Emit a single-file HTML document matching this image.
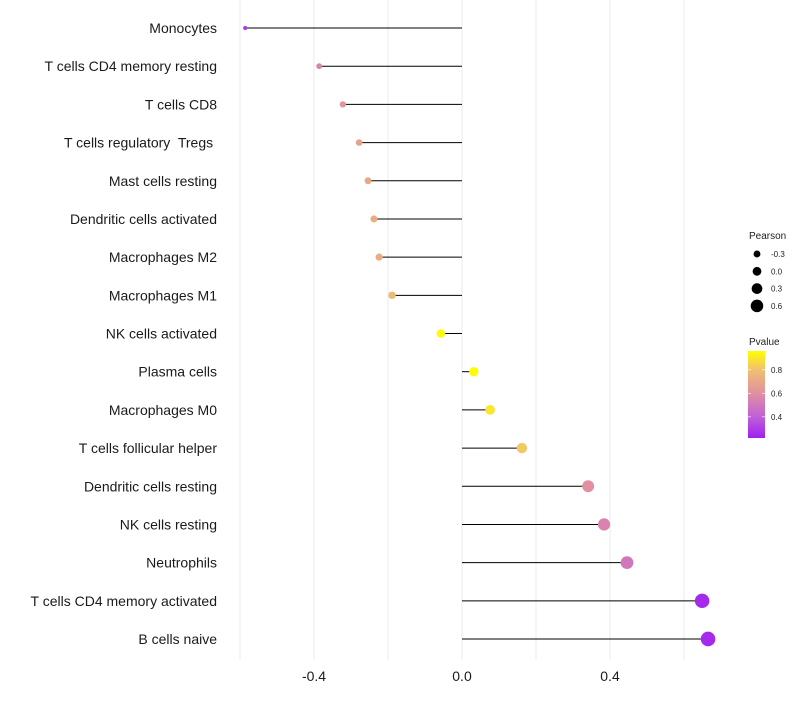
<!DOCTYPE html>
<html><head><meta charset="utf-8"><style>
body{margin:0;background:#fff;font-family:"Liberation Sans",sans-serif}
text{white-space:pre}
</style></head><body>
<svg id="chart" width="800" height="700" xmlns="http://www.w3.org/2000/svg" font-family="Liberation Sans, sans-serif"></svg>
<script>
const categories=["Monocytes","T cells CD4 memory resting","T cells CD8","T cells regulatory  Tregs ","Mast cells resting","Dendritic cells activated","Macrophages M2","Macrophages M1","NK cells activated","Plasma cells","Macrophages M0","T cells follicular helper","Dendritic cells resting","NK cells resting","Neutrophils","T cells CD4 memory activated","B cells naive"];
const pearson=[-0.586,-0.386,-0.322,-0.278,-0.254,-0.238,-0.224,-0.189,-0.057,0.032,0.076,0.162,0.341,0.384,0.446,0.649,0.665];
const pvalue=[0.3,0.55,0.62,0.68,0.7,0.72,0.72,0.78,0.95,0.95,0.9,0.82,0.6,0.55,0.5,0.25,0.25];
const xTicks=[-0.4,0,0.4];
const xTickLabels=["-0.4","0.0","0.4"];
const xGrid=[-0.6,-0.4,-0.2,0,0.2,0.4,0.6];
const sizeBreaks=[-0.3,0,0.3,0.6];
const sizeLabels=["-0.3","0.0","0.3","0.6"];
const pBreaks=[0.4,0.6,0.8];
const pLabels=["0.4","0.6","0.8"];

const NS="http://www.w3.org/2000/svg";
const svg=document.getElementById('chart');
function mk(t,a,p){const e=document.createElementNS(NS,t);for(const k in a)e.setAttribute(k,a[k]);(p||svg).appendChild(e);return e;}
const x=v=>462+v*370;
const y=i=>28+i*(611/16);
const r=v=>2+(v+0.6)*4.2;
const stops=[[0.22,[160,32,240]],[0.4,[192,96,216]],[0.6,[224,144,160]],[0.8,[240,192,112]],[0.96,[255,255,0]]];
function col(p){p=Math.max(0.22,Math.min(0.96,p));for(let i=0;i<stops.length-1;i++){const[a,ca]=stops[i],[b,cb]=stops[i+1];if(p<=b){const t=(p-a)/(b-a);return`rgb(${ca.map((c,j)=>Math.round(c+(cb[j]-c)*t)).join(',')})`;}}return'rgb(255,255,0)';}

xGrid.forEach(v=>{const g=mk('line',{x1:x(v),x2:x(v),y1:0,y2:660,stroke:'#ebebeb','stroke-width':1});

});
xTicks.forEach((v,i)=>{const t=mk('text',{x:x(v),y:681,'text-anchor':'middle','font-size':14,fill:'#1a1a1a'});t.textContent=xTickLabels[i];

});
categories.forEach((c,i)=>{
const t=mk('text',{x:217,y:y(i)+5,'text-anchor':'end','font-size':14,fill:'#1a1a1a'});t.textContent=c;


const l=mk('line',{x1:x(0),x2:x(pearson[i]),y1:y(i),y2:y(i),stroke:'#000','stroke-width':1});


const d=mk('circle',{cx:x(pearson[i]),cy:y(i),r:r(pearson[i]),fill:col(pvalue[i])});


});
const lt=mk('text',{x:749,y:239,'font-size':10,fill:'#222'});lt.textContent='Pearson';


sizeBreaks.forEach((v,i)=>{const cy=254+i*17.3;
const c=mk('circle',{cx:757,cy:cy,r:r(v)*0.75+1,fill:'#000'});


const t=mk('text',{x:771,y:cy+3,'font-size':8,fill:'#222'});t.textContent=sizeLabels[i];

});
const pt=mk('text',{x:749,y:345,'font-size':10,fill:'#222'});pt.textContent='Pvalue';


const defs=mk('defs',{});const gr=mk('linearGradient',{id:'pg',x1:0,y1:1,x2:0,y2:0},defs);
stops.forEach(([p,c])=>mk('stop',{offset:(p-0.22)/0.74,'stop-color':`rgb(${c.join(',')})`},gr));
const bar=mk('rect',{x:748,y:351,width:17,height:87,fill:'url(#pg)'});


const py=p=>438-(p-0.22)/0.74*87;
pBreaks.forEach((p,i)=>{mk('line',{x1:748,x2:751,y1:py(p),y2:py(p),stroke:'#fff','stroke-width':0.6});mk('line',{x1:762,x2:765,y1:py(p),y2:py(p),stroke:'#fff','stroke-width':0.6});
const t=mk('text',{x:771,y:py(p)+3,'font-size':8,fill:'#222'});t.textContent=pLabels[i];

});
</script>
</body></html>
